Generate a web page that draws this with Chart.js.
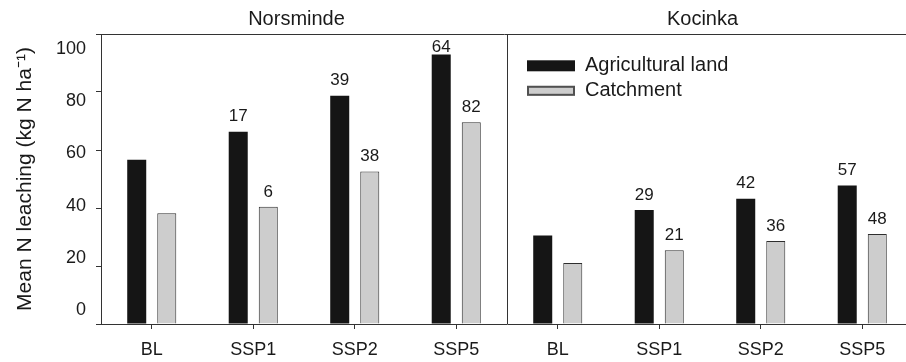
<!DOCTYPE html>
<html>
<head>
<meta charset="utf-8">
<script src="https://cdn.jsdelivr.net/npm/chart.js@4/dist/chart.umd.min.js"></script>
<style>
  html, body { margin: 0; padding: 0; background: #fff; overflow: hidden; }
  #wrap { width: 913px; height: 362px; }
</style>
</head>
<body>
<div id="wrap"><canvas id="chart" width="913" height="362"></canvas></div>
<script>
// categories: 4 scenarios for each catchment
const categories = ['BL', 'SSP1', 'SSP2', 'SSP5', 'BL', 'SSP1', 'SSP2', 'SSP5'];
const panels = ['Norsminde', 'Kocinka'];
const seriesNames = ['Agricultural land', 'Catchment'];

// mean N leaching, kg N/ha
const agriValues = [56.6, 66.3, 78.7, 92.9, 30.5, 39.3, 43.2, 47.8];
const catchValues = [38.2, 40.4, 52.6, 69.6, 21.0, 25.4, 28.6, 31.0];

// % change relative to BL, printed above the bars
const agriChange = [null, 17, 39, 64, null, 29, 42, 57];
const catchChange = [null, 6, 38, 82, null, 21, 36, 48];

const yTicks = [0, 20, 40, 60, 80, 100];

const FONT = 'Liberation Sans, Arial, Helvetica, sans-serif';
const INK = '#1a1a1a';
const AXIS = '#333333';

const changes = [agriChange, catchChange];

const extras = {
    id: 'extras',
    afterDatasetsDraw(chart) {
        const ctx = chart.ctx;
        const top = chart.chartArea.top;
        ctx.save();
        ctx.fillStyle = INK;
        ctx.font = '17px ' + FONT;
        ctx.textAlign = 'center';
        ctx.textBaseline = 'middle';
        chart.data.datasets.forEach((ds, i) => {
            chart.getDatasetMeta(i).data.forEach((bar, j) => {
                const v = changes[i][j];
                if (v == null) return;
                // keep labels under the frame line
                ctx.fillText(String(v), bar.x, Math.max(bar.y - 15, top + 13));
            });
        });
        ctx.restore();
    },
    afterDraw(chart) {
        const ctx = chart.ctx;
        const area = chart.chartArea;
        const x = chart.scales.x;
        ctx.save();

        // top frame line + divider between panels
        ctx.strokeStyle = AXIS;
        ctx.lineWidth = 1;
        ctx.beginPath();
        ctx.moveTo(area.left - 5, Math.round(area.top) + 0.5);
        ctx.lineTo(area.right, Math.round(area.top) + 0.5);
        const divX = Math.round((x.getPixelForValue(3) + x.getPixelForValue(4)) / 2) + 0.5;
        ctx.moveTo(divX, area.top);
        ctx.lineTo(divX, area.bottom);
        ctx.stroke();

        // panel titles
        ctx.fillStyle = INK;
        ctx.font = '20px ' + FONT;
        ctx.textAlign = 'center';
        ctx.textBaseline = 'middle';
        panels.forEach((name, p) => {
            const cx = (x.getPixelForValue(p * 4 + 1) + x.getPixelForValue(p * 4 + 2)) / 2 - 7.5;
            ctx.fillText(name, cx, 19.5);
        });

        // legend
        ctx.textAlign = 'left';
        chart.data.datasets.forEach((ds, i) => {
            const y = 65.8 + i * 25;
            if (ds.borderWidth) {
                ctx.fillStyle = ds.backgroundColor;
                ctx.fillRect(527, y - 5, 48, 10);
                ctx.strokeStyle = '#505050';
                ctx.lineWidth = 2;
                ctx.strokeRect(528, y - 4, 46, 8);
            } else {
                ctx.fillStyle = ds.backgroundColor;
                ctx.fillRect(527, y - 5.5, 48, 11);
            }
            ctx.fillStyle = INK;
            ctx.fillText(ds.label, 585, y);
        });
        ctx.restore();
    }
};

new Chart(document.getElementById('chart'), {
    type: 'bar',
    data: {
        labels: categories,
        datasets: [
            {
                label: seriesNames[0],
                data: agriValues,
                backgroundColor: '#151515',
                borderWidth: 0,
                categoryPercentage: 0.592,
                barPercentage: 0.633
            },
            {
                label: seriesNames[1],
                data: catchValues,
                backgroundColor: '#cdcdcd',
                borderColor: '#2e2e2e',
                borderWidth: 1,
                categoryPercentage: 0.592,
                barPercentage: 0.633
            }
        ]
    },
    options: {
        responsive: false,
        animation: false,
        devicePixelRatio: 1,
        layout: { padding: { top: 34, right: 0, bottom: 0, left: 0 } },
        plugins: {
            legend: { display: false },
            tooltip: { enabled: false }
        },
        scales: {
            x: {
                offset: true,
                grid: { display: true, drawOnChartArea: false, offset: false, tickLength: 5, color: AXIS },
                border: { display: true, color: AXIS, width: 1 },
                ticks: { color: INK, font: { family: FONT, size: 18 }, padding: 10, maxRotation: 0, autoSkip: false },
                afterFit: s => { s.height = 38; }
            },
            y: {
                position: 'left',
                weight: 0,
                min: 0,
                max: 100,
                grid: { display: true, drawOnChartArea: false, tickLength: 5, color: AXIS },
                border: { display: true, color: AXIS, width: 1 },
                ticks: { display: false, stepSize: 20 },
                afterBuildTicks: s => { s.ticks = yTicks.map(v => ({ value: v })); },
                afterFit: s => { s.width = 5; }
            },
            // tick labels of the original sit on a slightly different spacing than the tick marks
            yLabels: {
                position: 'left',
                weight: 1,
                min: -5.385,
                max: 105.77,
                grid: { display: false, drawTicks: false },
                border: { display: false },
                ticks: { color: INK, font: { family: FONT, size: 18 }, padding: 10 },
                afterBuildTicks: s => { s.ticks = yTicks.map(v => ({ value: v })); },
                afterFit: s => { s.width = 96; },
                title: {
                    display: true,
                    text: 'Mean N leaching (kg N ha\u207B\u00B9)',
                    color: INK,
                    font: { family: FONT, size: 21 },
                    padding: { top: 13, bottom: 0 }
                }
            }
        }
    },
    plugins: [extras]
});
</script>
</body>
</html>
